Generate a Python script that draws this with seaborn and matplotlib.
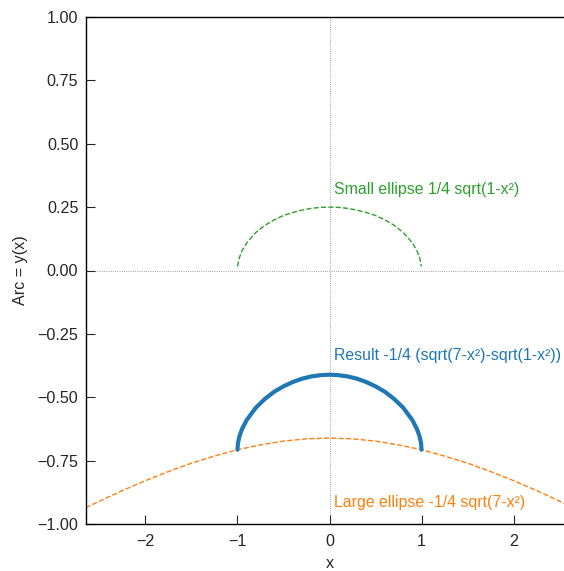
import matplotlib
matplotlib.use("Agg")
import matplotlib.pyplot as plt
import seaborn as sns

# x positions and values
small_x = [-0.998, -0.995, -0.98, -0.95, -0.9, -0.8, -0.7, -0.6, -0.5, -0.4, -0.3, -0.2, -0.1, 0.0,
           0.1, 0.2, 0.3, 0.4, 0.5, 0.6, 0.7, 0.8, 0.9, 0.95, 0.98, 0.995, 0.998]
small_y = [0.016, 0.025, 0.050, 0.078, 0.109, 0.150, 0.179, 0.200, 0.217, 0.229, 0.238, 0.245, 0.249, 0.250,
           0.249, 0.245, 0.238, 0.229, 0.217, 0.200, 0.179, 0.150, 0.109, 0.078, 0.050, 0.025, 0.016]

large_x = [-2.65, -2.5, -2.25, -2.0, -1.75, -1.5, -1.25, -1.0, -0.75, -0.5, -0.25, 0.0,
           0.25, 0.5, 0.75, 1.0, 1.25, 1.5, 1.75, 2.0, 2.25, 2.5, 2.65]
large_y = [-0.936, -0.910, -0.868, -0.829, -0.793, -0.760, -0.732, -0.707, -0.688, -0.673, -0.664, -0.661,
           -0.664, -0.673, -0.688, -0.707, -0.732, -0.760, -0.793, -0.829, -0.868, -0.910, -0.936]

result_x = [-1.0, -0.995, -0.98, -0.95, -0.9, -0.8, -0.7, -0.6, -0.5, -0.4, -0.3, -0.2, -0.1, 0.0,
            0.1, 0.2, 0.3, 0.4, 0.5, 0.6, 0.7, 0.8, 0.9, 0.95, 0.98, 0.995, 1.0]
result_y = [-0.707, -0.682, -0.656, -0.625, -0.590, -0.541, -0.506, -0.478, -0.457, -0.440, -0.427, -0.418, -0.413, -0.411,
            -0.413, -0.418, -0.427, -0.440, -0.457, -0.478, -0.506, -0.541, -0.590, -0.625, -0.656, -0.682, -0.707]

sns.set_style("ticks")
plt.rcParams["font.family"] = ["Liberation Sans", "DejaVu Sans"]
plt.rcParams["axes.unicode_minus"] = True

FS = 11.6
TXT_FS = 11.4

fig = plt.figure(figsize=(5.64, 5.71), dpi=100)
# axes run past the right edge of the picture, as in the reference
ax = fig.add_axes([86 / 564, 47 / 571, 487 / 564, 507 / 571])

ax.axhline(0, color="grey", lw=0.6, ls=":", zorder=0)
ax.axvline(0, color="grey", lw=0.6, ls=":", zorder=0)

sns.lineplot(x=small_x, y=small_y, ax=ax, color="#2ca02c", lw=1.0, ls="--", sort=False)
sns.lineplot(x=large_x, y=large_y, ax=ax, color="#ff7f0e", lw=1.0, ls="--", sort=False)
sns.lineplot(x=result_x, y=result_y, ax=ax, color="#1f77b4", lw=3.0, sort=False)

ax.text(0.05, 0.32, "Small ellipse 1/4 sqrt(1-x²)", color="#2ca02c", fontsize=TXT_FS, va="center")
ax.text(0.05, -0.335, "Result -1/4 (sqrt(7-x²)-sqrt(1-x²))", color="#1f77b4", fontsize=TXT_FS, va="center")
ax.text(0.05, -0.915, "Large ellipse -1/4 sqrt(7-x²)", color="#ff7f0e", fontsize=TXT_FS, va="center")

ax.set_xlim(-2.6458, 2.6458)
ax.set_ylim(-1.0, 1.0)
ax.set_yticks([-1.0, -0.75, -0.5, -0.25, 0.0, 0.25, 0.5, 0.75, 1.0])
ax.set_yticklabels([f"{v:.2f}".replace("-", "\u2212") for v in ax.get_yticks()])
ax.set_xticks([-2, -1, 0, 1, 2])
ax.tick_params(direction="in", labelsize=FS, length=6.5)
ax.tick_params(axis="x", pad=7.5)
ax.tick_params(axis="y", pad=5.5)
for s in ax.spines.values():
    s.set_linewidth(1.0)
    s.set_color("black")
ax.set_xlabel("x", fontsize=FS, labelpad=4.5)
ax.set_ylabel("Arc = y(x)", fontsize=FS, labelpad=7)

fig.savefig("out.png", dpi=100)
